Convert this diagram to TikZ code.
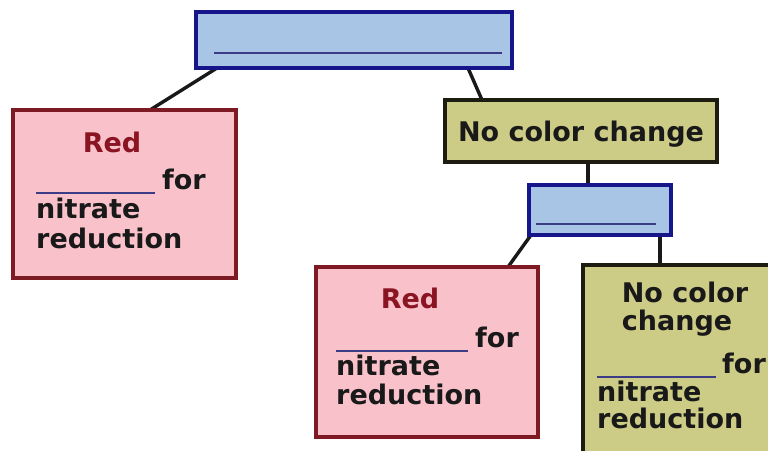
\documentclass[tikz,border=0pt]{standalone}
\usepackage{fontspec}
\setmainfont{DejaVu Sans}
\definecolor{bfill}{HTML}{A9C5E6}
\definecolor{bdraw}{HTML}{16168A}
\definecolor{rfill}{HTML}{F9C2CB}
\definecolor{rdraw}{HTML}{7E1A24}
\definecolor{ofill}{HTML}{CDCC86}
\definecolor{odraw}{HTML}{1C1C10}
\definecolor{redtxt}{HTML}{8A1421}
\definecolor{blank}{HTML}{3C3C86}
\tikzset{
  box/.style={draw, line width=3.4pt, inner sep=0pt, rectangle},
  bluebox/.style={box, fill=bfill, draw=bdraw},
  redbox/.style={box, fill=rfill, draw=rdraw},
  olivebox/.style={box, fill=ofill, draw=odraw},
  conn/.style={line width=3.4pt, draw=black!90},
  txt/.style={inner sep=0pt, font=\fontsize{27}{30}\selectfont\bfseries, text=black!90},
  rtxt/.style={txt, text=redtxt},
  blankline/.style={line width=2.6pt, draw=blank},
}
\begin{document}
\begin{tikzpicture}[x=1pt,y=-1pt]
\useasboundingbox (0,0) rectangle (768,450);
\clip (0,0) rectangle (768,450);
% connectors (drawn first, boxes cover their ends)
\coordinate (t1) at (217,68);
\coordinate (l1) at (150,110);
\coordinate (t2) at (468,68);
\coordinate (n1) at (482,100);
\coordinate (n2) at (588,162);
\coordinate (s1) at (588,185);
\coordinate (s2) at (531,235);
\coordinate (r1) at (508,267);
\coordinate (s3) at (660,235);
\coordinate (o1) at (660,265);
\draw[conn] (t1) -- (l1);
\draw[conn] (t2) -- (n1);
\draw[conn] (n2) -- (s1);
\draw[conn] (s2) -- (r1);
\draw[conn] (s3) -- (o1);
% boxes
\node[bluebox, minimum width=316pt, minimum height=56pt] (top) at (354,40) {};
\node[redbox, minimum width=223pt, minimum height=168pt] (left) at (124.5,194) {};
\node[olivebox, minimum width=272pt, minimum height=62pt] (nocc) at (581,131) {};
\node[bluebox, minimum width=142pt, minimum height=50pt] (small) at (600,210) {};
\node[redbox, minimum width=222pt, minimum height=170pt] (red2) at (427,352) {};
\node[olivebox, minimum width=200pt, minimum height=200pt] (olive2) at (683,365) {};
% blanks in blue boxes
\coordinate (tb1) at (214,53);
\coordinate (tb2) at (502,53);
\draw[blankline] (tb1) -- (tb2);
\coordinate (sb1) at (536,224);
\coordinate (sb2) at (656,224);
\draw[blankline] (sb1) -- (sb2);
% left red box text
\node[rtxt, anchor=base] (lred) at (112,152) {Red};
\coordinate (lb1) at (36,193);
\coordinate (lb2) at (155,193);
\draw[blankline] (lb1) -- (lb2);
\node[txt, anchor=base west] (lfor) at (162,189) {for};
\node[txt, anchor=base west] (lnit) at (36,218) {nitrate};
\node[txt, anchor=base west] (lred2) at (36,248) {reduction};
% no color change
\node[txt, anchor=base] (ncc) at (581,141) {No color change};
% red2 text
\node[rtxt, anchor=base] (r2red) at (410,308) {Red};
\coordinate (rb1) at (336,351);
\coordinate (rb2) at (468,351);
\draw[blankline] (rb1) -- (rb2);
\node[txt, anchor=base west] (r2for) at (475,347) {for};
\node[txt, anchor=base west] (r2nit) at (336,375) {nitrate};
\node[txt, anchor=base west] (r2red2) at (336,404) {reduction};
% olive2 text
\node[txt, anchor=base] (o2a) at (685,302) {No color};
\node[txt, anchor=base] (o2b) at (677,330) {change};
\coordinate (ob1) at (597,377);
\coordinate (ob2) at (716,377);
\draw[blankline] (ob1) -- (ob2);
\node[txt, anchor=base west] (o2for) at (722,373) {for};
\node[txt, anchor=base west] (o2nit) at (597,401) {nitrate};
\node[txt, anchor=base west] (o2red) at (597,428) {reduction};
\end{tikzpicture}
\end{document}
